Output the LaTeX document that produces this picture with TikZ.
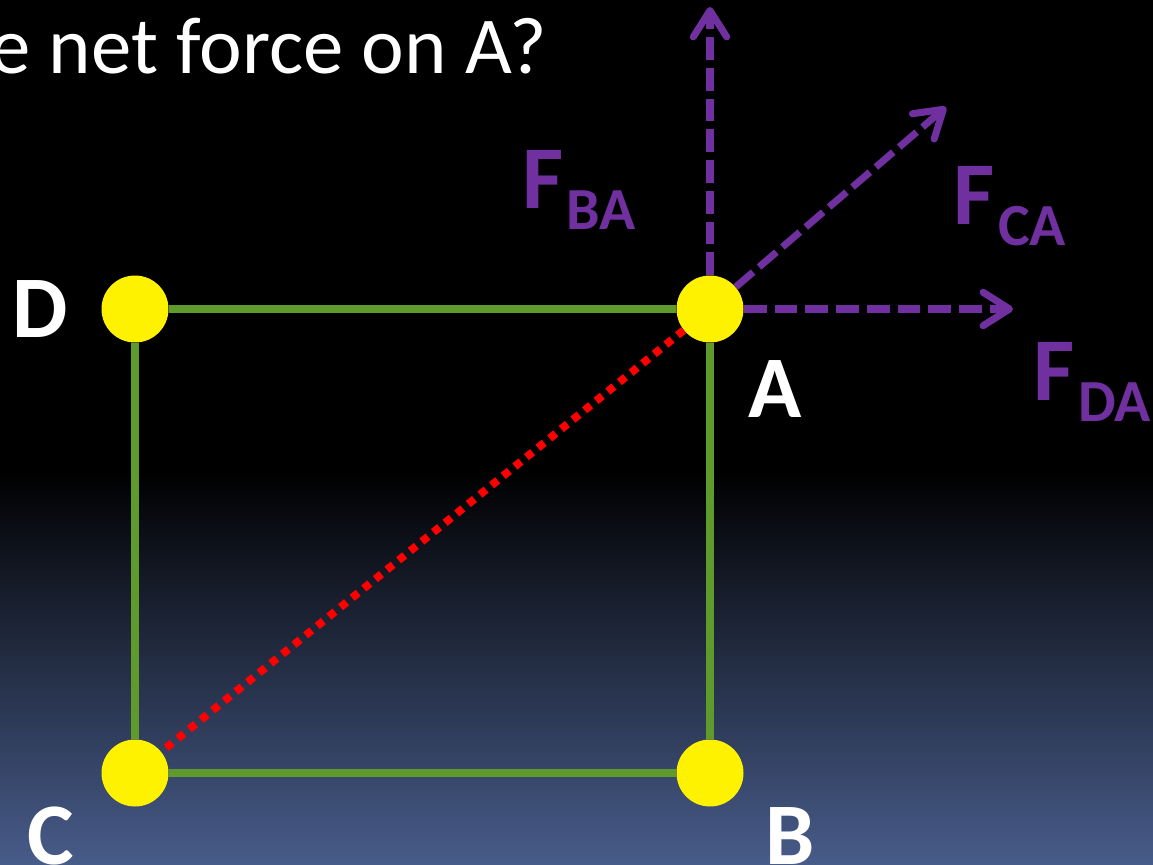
\documentclass[tikz,border=0pt]{standalone}
\usepackage{fontspec}
\setmainfont{Carlito}
\usetikzlibrary{arrows.meta}
\definecolor{sidegreen}{RGB}{94,154,44}
\definecolor{forcepurple}{RGB}{112,48,160}
\definecolor{skyblue}{RGB}{72,92,138}
\newcommand{\forcelabel}[1]{{\fontsize{51}{51}\selectfont F}\kern2pt\raisebox{-12pt}{\fontsize{34}{34}\selectfont #1}}
\begin{document}
\begin{tikzpicture}[x=0.02cm,y=-0.02cm,line cap=butt,
	ball/.style={circle,fill=yellow,minimum size=1.34cm,inner sep=0pt},
	side/.style={draw=sidegreen,line width=4pt},
	pull/.style={draw=forcepurple,line width=4pt,dash pattern=on 13pt off 4.5pt,
		-{Straight Barb[length=15pt,width=19pt,round]}},
	corner/.style={text=white,font=\fontsize{50}{50}\selectfont\bfseries},
	flabel/.style={text=forcepurple,font=\bfseries,anchor=base west,inner sep=0pt}]
	\useasboundingbox (0,0) rectangle (1153,865);
	% background
	\fill[black] (0,0) rectangle (1153,865);
	\shade[top color=black,bottom color=skyblue] (0,470) rectangle (1153,865);
	\node[anchor=base east,text=white,font=\fontsize{46}{46}\selectfont,inner sep=0pt] (title) at (547,74) {e net force on A?};
	% charges
	\node[ball] (D) at (135,309) {};
	\node[ball] (A) at (710,309) {};
	\node[ball] (C) at (135,773) {};
	\node[ball] (B) at (710,773) {};
	\draw[side] (D) -- (A) (A) -- (B) (B) -- (C) (C) -- (D);
	\draw[red,line width=4.5pt,dash pattern=on 4.5pt off 4pt] (A) -- (C);
	\node[corner] (Dlab) at (40,309) {D};
	\node[corner] (Alab) at (775,389) {A};
	\node[corner] (Clab) at (51,836) {C};
	\node[corner] (Blab) at (790,836) {B};
	% forces on A
	\coordinate (upend) at (710,7);
	\coordinate (diagend) at (946,107);
	\coordinate (rightend) at (1013,309);
	\foreach \e in {upend,diagend,rightend}{
		\draw[pull] (A) -- (\e);
	}
	\node[flabel] (FBA) at (522,208) {\forcelabel{BA}};
	\node[flabel] (FCA) at (953,224) {\forcelabel{CA}};
	\node[flabel] (FDA) at (1033,400) {\forcelabel{DA}};
\end{tikzpicture}
\end{document}
